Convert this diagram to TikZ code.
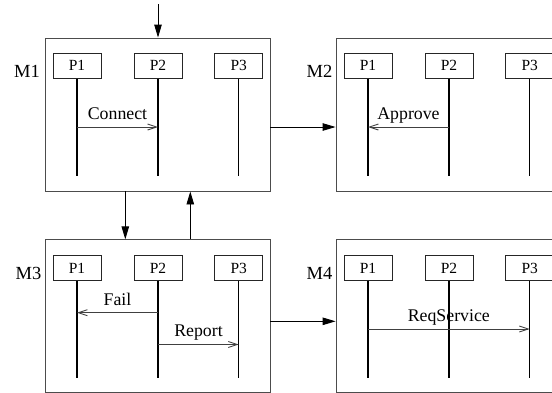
\documentclass[tikz,border=0pt]{standalone}
\usepackage{fontspec}
\setmainfont{Liberation Serif}
\usetikzlibrary{arrows.meta}
\tikzset{
  module/.style={draw=black!70, line width=0.9bp, minimum width=225bp, minimum height=153bp, inner sep=0pt},
  proc/.style={draw=black!85, line width=0.9bp, minimum width=48bp, minimum height=25bp, inner sep=0pt, font=\fontsize{15.5bp}{17bp}\selectfont},
  mlabel/.style={anchor=base east, inner sep=0pt, font=\fontsize{18.5bp}{20bp}\selectfont},
  lifeline/.style={line width=1.3bp, black},
  msg/.style={draw=black!75, line width=0.9bp, -{Straight Barb[length=9bp,width=6bp]}},
  msglabel/.style={anchor=base, inner sep=0pt, font=\fontsize{17.8bp}{20bp}\selectfont},
  flow/.style={line width=0.9bp, black, -{Triangle[length=13bp,width=7.5bp]}}
}
\begin{document}
\begin{tikzpicture}[x=1bp,y=-1bp]
\useasboundingbox (0,0) rectangle (552,392);
\clip (0,0) rectangle (552,392);
% modules
\node[module] (m1) at (157.5,114.5) {};
\node[module] (m2) at (448.5,114.5) {};
\node[module] (m3) at (157.5,316.3) {};
\node[module] (m4) at (448.5,316.3) {};
\node[mlabel] (l1) at (40,77) {M1};
\node[mlabel] (l2) at (332.5,77) {M2};
\node[mlabel] (l3) at (41.5,279.3) {M3};
\node[mlabel] (l4) at (332.5,279.3) {M4};
% processes
\foreach \m/\dx/\dy in {m1/0/0, m2/291/0, m3/0/202.3, m4/291/202.3}{
  \node[proc] (\m p1) at (77+\dx,65.7+\dy) {P1};
  \node[proc] (\m p2) at (158+\dx,65.7+\dy) {P2};
  \node[proc] (\m p3) at (238.7+\dx,65.7+\dy) {P3};
  \foreach \p in {p1,p2,p3}{
    \coordinate (\m\p e) at ([yshift=-97bp]\m\p.south);
    \draw[lifeline] (\m\p.south) -- (\m\p e);
  }
}
% message rows
\coordinate (r1) at (0,127);
\coordinate (r3a) at (0,312.7);
\coordinate (r3b) at (0,344.5);
\coordinate (r4) at (0,329);
\draw[msg] (m1p1 |- r1) -- (m1p2 |- r1);
\node[msglabel] (t1) at (117.5,119.5) {Connect};
\draw[msg] (m2p2 |- r1) -- (m2p1 |- r1);
\node[msglabel] (t2) at (408.5,119.2) {Approve};
\draw[msg] (m3p2 |- r3a) -- (m3p1 |- r3a);
\node[msglabel] (t3) at (117.5,305) {Fail};
\draw[msg] (m3p2 |- r3b) -- (m3p3 |- r3b);
\node[msglabel] (t4) at (198.5,336.7) {Report};
\draw[msg] (m4p1 |- r4) -- (m4p3 |- r4);
\node[msglabel] (t5) at (448.8,321) {ReqService};
% flow between modules
\coordinate (start) at (158,4);
\draw[flow] (start) -- (start |- m1.north);
\draw[flow] ([yshift=-12.5bp]m1.east) -- ([yshift=-12.5bp]m2.west);
\draw[flow] ([xshift=-32.2bp]m1.south) -- ([xshift=-32.2bp]m3.north);
\draw[flow] ([xshift=32.8bp]m3.north) -- ([xshift=32.8bp]m1.south);
\draw[flow] ([yshift=-5bp]m3.east) -- ([yshift=-5bp]m4.west);
\end{tikzpicture}
\end{document}
